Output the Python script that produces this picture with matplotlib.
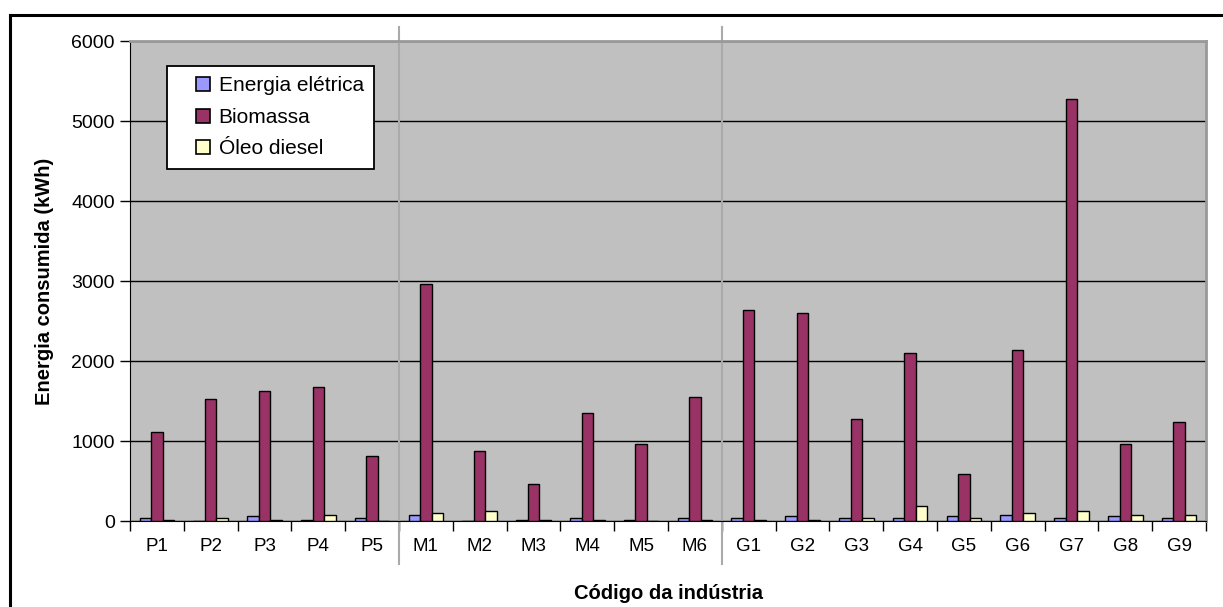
import matplotlib
matplotlib.use("Agg")
import matplotlib.pyplot as plt
from matplotlib.lines import Line2D
import numpy as np

plt.rcParams['font.family'] = ['Liberation Sans', 'DejaVu Sans']

codigos = ['P1', 'P2', 'P3', 'P4', 'P5',
           'M1', 'M2', 'M3', 'M4', 'M5', 'M6',
           'G1', 'G2', 'G3', 'G4', 'G5', 'G6', 'G7', 'G8', 'G9']
energia_eletrica = [40, 0, 60, 15, 40,
                    80, 0, 15, 40, 15, 40,
                    40, 60, 40, 40, 60, 80, 40, 60, 40]
biomassa = [1110, 1520, 1630, 1670, 810,
            2960, 870, 460, 1350, 960, 1550,
            2640, 2600, 1270, 2100, 590, 2140, 5270, 960, 1240]
oleo_diesel = [15, 40, 15, 80, 0,
               95, 120, 15, 15, 0, 15,
               15, 15, 40, 190, 40, 95, 120, 80, 80]

series = ['Energia elétrica', 'Biomassa', 'Óleo diesel']
cores = ['#9999ff', '#993366', '#ffffcc']

fig = plt.figure(figsize=(12.23, 6.07), dpi=100)
ax = fig.add_axes([130/1223, 86/607, 1076/1223, 480/607])
ax.set_facecolor('#c0c0c0')

x = np.arange(len(codigos))
w = 0.215
ax.bar(x - w, energia_eletrica, w, color=cores[0], edgecolor='black', linewidth=1, zorder=3)
ax.bar(x, biomassa, w, color=cores[1], edgecolor='black', linewidth=1, zorder=3)
ax.bar(x + w, oleo_diesel, w, color=cores[2], edgecolor='black', linewidth=1, zorder=3)

ax.set_xlim(-0.5, len(codigos) - 0.5)
ax.set_ylim(0, 6000)
ax.set_yticks(range(0, 6001, 1000))
ax.set_xticks(np.arange(-0.5, len(codigos), 1), minor=False)
ax.set_xticklabels([])
ax.set_xticks(x, minor=True)
ax.set_xticklabels(codigos, minor=True)
ax.tick_params(axis='x', which='minor', length=0, pad=12, labelsize=13.5)
ax.tick_params(axis='x', which='major', length=7, width=1, direction='out')
ax.tick_params(axis='y', length=7, width=1, direction='out', labelsize=14, pad=4)

ax.yaxis.grid(True, color='black', linewidth=1, zorder=1)
ax.set_axisbelow(True)

for s in ['top', 'right']:
    ax.spines[s].set_color('#999999')
    ax.spines[s].set_linewidth(2)
ax.spines['left'].set_color('black')
ax.spines['bottom'].set_color('black')

# separadores entre grupos P / M / G
for xs in [4.5, 10.5]:
    ax.add_artist(Line2D([xs, xs], [-0.09, 1.03], transform=ax.get_xaxis_transform(),
                         color='#aaaaaa', linewidth=1.5, clip_on=False, zorder=2))

ax.set_ylabel('Energia consumida (kWh)', fontsize=14.5, fontweight='bold', labelpad=12)
ax.set_xlabel('Código da indústria', fontsize=14.5, fontweight='bold', labelpad=21)

handles = [Line2D([], [], marker='s', linestyle='None', markersize=9.5,
                  markerfacecolor=c, markeredgecolor='black', markeredgewidth=1.2)
           for c in cores]
leg = ax.legend(handles, series, loc='upper left', bbox_to_anchor=(0.034, 0.948), borderaxespad=0,
                fancybox=False, edgecolor='black', framealpha=1, fontsize=15,
                handlelength=2.45, handletextpad=-0.45,
                labelspacing=0.6, borderpad=0.5)
leg.get_frame().set_linewidth(1.3)
leg.set_zorder(5)

# moldura externa
fig.add_artist(Line2D([10/1223, 1], [1 - 15/607, 1 - 15/607], color='black', linewidth=2.2))
fig.add_artist(Line2D([10/1223, 10/1223], [0, 1 - 15/607], color='black', linewidth=2.2))

fig.savefig('out.png', dpi=100)
